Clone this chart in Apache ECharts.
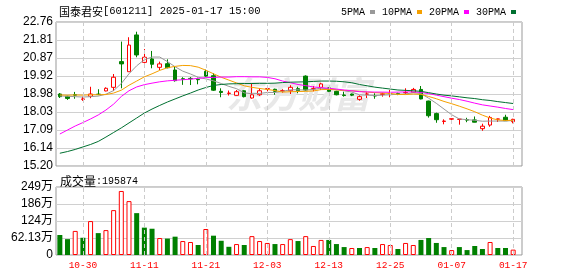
<!DOCTYPE html>
<html><head><meta charset="utf-8">
<script src="https://cdn.jsdelivr.net/npm/echarts@6/dist/echarts.min.js"></script>
<style>html,body{margin:0;padding:0;background:#fff}#c{width:578px;height:276px}</style>
</head><body><div id="c"></div>
<script>
const stockName = '国泰君安';
const stockCode = '601211';
const stamp = '2025-01-17 15:00';
const volumeTitle = '成交量';
const lastVolume = 195874;
const watermark = '东方财富';

const categories = ['10-25','10-28','10-29','10-30','10-31','11-01','11-04','11-05','11-06','11-07','11-08','11-11','11-12','11-13','11-14','11-15','11-18','11-19','11-20','11-21','11-22','11-25','11-26','11-27','11-28','11-29','12-02','12-03','12-04','12-05','12-06','12-09','12-10','12-11','12-12','12-13','12-16','12-17','12-18','12-19','12-20','12-23','12-24','12-25','12-26','12-27','12-30','12-31','01-02','01-03','01-06','01-07','01-08','01-09','01-10','01-13','01-14','01-15','01-16','01-17'];
const labelDates = ['10-30','11-11','11-21','12-03','12-13','12-25','01-07','01-17'];

const opens  = [18.98,18.86,18.94,18.70,18.86,18.97,19.14,19.33,20.68,20.15,22.08,20.64,20.82,20.38,20.57,20.24,19.78,19.80,19.75,20.17,19.94,19.12,19.01,18.91,19.15,18.77,18.94,19.25,19.23,19.14,19.15,19.26,19.92,19.25,19.33,19.30,19.12,18.93,18.98,18.70,18.97,18.89,18.96,19.00,19.00,19.04,19.07,19.22,18.61,17.95,17.54,17.66,17.65,17.63,17.62,17.16,17.35,17.66,17.76,17.53];
const closes = [18.84,18.75,18.92,18.72,18.98,18.96,19.28,19.86,20.56,21.55,21.03,20.91,20.54,20.56,20.36,19.68,19.76,19.78,19.73,19.92,19.18,19.06,19.03,19.10,18.84,18.94,19.15,19.26,19.12,19.15,19.33,19.15,19.19,19.26,19.51,19.12,18.94,18.90,18.92,18.84,18.98,18.88,18.99,19.01,18.98,19.06,19.22,18.72,17.84,17.63,17.56,17.68,17.66,17.61,17.50,17.29,17.75,17.67,17.58,17.65];
const lows   = [18.77,18.67,18.73,18.62,18.76,18.92,19.12,19.14,19.28,20.15,20.91,20.59,20.33,20.24,20.33,19.63,19.46,19.45,19.49,19.88,19.14,18.81,18.90,18.89,18.80,18.74,18.88,19.12,18.94,19.05,18.98,19.02,19.15,19.12,19.19,19.08,18.91,18.84,18.87,18.63,18.77,18.73,18.84,18.81,18.92,18.98,19.04,18.70,17.74,17.47,17.39,17.49,17.37,17.50,17.49,17.05,17.26,17.51,17.57,17.44];
const highs  = [19.03,18.89,19.09,18.84,19.36,19.23,19.33,20.03,21.73,21.96,22.25,21.34,21.24,20.68,20.80,20.41,19.86,19.87,19.84,20.26,20.07,19.28,19.16,19.19,19.18,19.51,19.28,19.40,19.26,19.23,19.44,19.36,19.96,19.40,19.57,19.33,19.15,19.10,19.00,18.91,19.08,19.02,19.05,19.19,19.05,19.28,19.30,19.40,18.63,18.00,17.65,17.69,17.67,17.73,17.80,17.42,17.83,17.68,17.89,17.68];
const prevClose = 18.95;

const volumes = [730000,580000,880000,630000,1240000,800000,910000,1640000,2340000,1970000,1530000,1000000,960000,620000,600000,670000,510000,475000,365000,950000,706000,520000,300000,400000,365000,690000,510000,440000,400000,400000,580000,510000,690000,330000,550000,550000,400000,290000,256000,256000,290000,256000,400000,365000,220000,440000,365000,550000,620000,440000,290000,180000,290000,180000,330000,220000,475000,256000,256000,195874];

const ma5  = [18.88,18.86,18.84,18.82,18.84,18.87,18.97,19.16,19.53,20.04,20.46,20.78,20.92,20.92,20.68,20.41,20.18,20.03,19.86,19.77,19.67,19.53,19.38,19.26,19.04,18.99,19.01,19.06,19.06,19.12,19.20,19.20,19.19,19.22,19.29,19.25,19.20,19.15,19.08,18.94,18.92,18.90,18.92,18.94,18.97,18.98,19.05,19.00,18.76,18.49,18.19,17.89,17.67,17.63,17.60,17.55,17.56,17.56,17.56,17.59];
const ma10 = [18.93,18.92,18.93,18.92,18.94,18.94,18.95,19.03,19.18,19.44,19.66,19.88,20.04,20.22,20.36,20.43,20.48,20.47,20.39,20.23,20.04,19.86,19.71,19.56,19.41,19.33,19.27,19.22,19.16,19.08,19.10,19.11,19.12,19.14,19.21,19.22,19.20,19.17,19.15,19.12,19.08,19.05,19.03,19.01,18.96,18.95,18.98,18.96,18.85,18.73,18.59,18.47,18.34,18.20,18.05,17.87,17.72,17.62,17.59,17.60];
const ma20 = [16.88,17.09,17.30,17.48,17.67,17.88,18.14,18.45,18.85,19.15,19.35,19.47,19.55,19.62,19.67,19.70,19.73,19.76,19.80,19.84,19.85,19.87,19.87,19.89,19.89,19.88,19.88,19.85,19.78,19.66,19.57,19.48,19.42,19.35,19.31,19.28,19.24,19.19,19.15,19.10,19.09,19.08,19.08,19.07,19.08,19.09,19.09,19.06,19.00,18.92,18.84,18.76,18.69,18.60,18.50,18.41,18.35,18.29,18.22,18.16];
const ma30 = [15.87,15.96,16.07,16.20,16.33,16.49,16.72,16.96,17.20,17.46,17.72,17.98,18.19,18.38,18.56,18.72,18.88,19.03,19.19,19.32,19.43,19.48,19.51,19.52,19.53,19.53,19.54,19.54,19.55,19.58,19.60,19.61,19.62,19.64,19.66,19.66,19.65,19.62,19.57,19.48,19.41,19.34,19.29,19.24,19.19,19.17,19.15,19.12,19.05,18.98,18.92,18.88,18.83,18.78,18.74,18.68,18.64,18.58,18.53,18.48];

const maNames = ['5PMA','10PMA','20PMA','30PMA'];
const priceTicks = ['15.20','16.14','17.09','18.03','18.98','19.92','20.87','21.81','22.76'];
const priceMin = 15.20, priceMax = 22.76, priceStep = 0.945;
const volTicks = ['0','62.13万','124万','186万','249万'];
const volMax = 2485200, volStep = 621300;

const RED = '#ff0000', GREEN = '#008000';
const maColors = ['#999999','#f5a000','#ff00ff','#007030'];
const GRID_L = 56;
const isLabel = (idx) => labelDates.indexOf(categories[idx]) >= 0;

const candleData = opens.map((o, i) => [o, closes[i], lows[i], highs[i]]);
const volData = volumes.map((v, i) => {
  const pc = i === 0 ? prevClose : closes[i - 1];
  const up = closes[i] > pc;
  return { value: v, itemStyle: up ? { color: '#fff', borderColor: RED, borderWidth: 1 } : { color: GREEN, borderColor: GREEN, borderWidth: 0 } };
});
const dashedMarks = {
  silent: true, symbol: ['none', 'none'], label: { show: false }, animation: false,
  lineStyle: { color: '#cccccc', type: [4, 3], width: 1 },
  emphasis: { disabled: true },
  data: labelDates.map(d => ({ xAxis: d }))
};

const sans = 'Liberation Sans, Noto Sans CJK SC, sans-serif';
const mono = 'Liberation Mono, Noto Sans CJK SC, monospace';

const chart = echarts.init(document.getElementById('c'), null, { width: 578, height: 276 });
chart.setOption({
  animation: false,
  backgroundColor: '#fff',
  title: [
    { text: '{c|' + stockName + '}{a|[' + stockCode + '] ' + stamp + '}', left: 54, top: 1,
      textStyle: { fontWeight: 'normal', rich: { c: { fontFamily: 'Noto Sans CJK SC', fontSize: 11, fontWeight: 'normal', color: '#000' }, a: { fontFamily: mono, fontSize: 10.5, fontWeight: 'normal', color: '#000' } } } },
    { text: '{c|' + volumeTitle + '}{a|:' + lastVolume + '}', left: 55, top: 170,
      textStyle: { fontWeight: 'normal', rich: { c: { fontFamily: 'Noto Sans CJK SC', fontSize: 12, fontWeight: 'normal', color: '#000' }, a: { fontFamily: mono, fontSize: 10, fontWeight: 'normal', color: '#000' } } } }
  ],
  legend: {
    data: maNames, left: 336, top: 2, align: 'right', icon: 'rect', itemWidth: 5, itemHeight: 4, itemGap: 7,
    textStyle: { fontFamily: mono, fontSize: 10, color: '#000' }, selectedMode: false
  },
  graphic: [{ type: 'text', left: 226, top: 76, z: 1, silent: true,
    style: { text: watermark, font: 'italic bold 36px "Noto Sans CJK SC"', fill: '#e8e8e8' } }],
  grid: [
    { left: GRID_L, top: 22, width: 466, height: 144, show: true, borderColor: '#999', borderWidth: 1, backgroundColor: 'transparent' },
    { left: GRID_L, top: 22, width: 461, height: 144 },
    { left: GRID_L, top: 187, width: 466, height: 68, show: true, borderColor: '#999', borderWidth: 1, backgroundColor: 'transparent' },
    { left: GRID_L, top: 187, width: 461, height: 68 }
  ],
  xAxis: [
    { gridIndex: 0, type: 'value', min: 0, max: 1, show: false },
    { gridIndex: 1, type: 'category', data: categories, boundaryGap: true,
      axisLine: { show: false }, axisTick: { show: false }, axisLabel: { show: false }, splitLine: { show: false } },
    { gridIndex: 2, type: 'value', min: 0, max: 1, show: false },
    { gridIndex: 3, type: 'category', data: categories, boundaryGap: true,
      axisLine: { show: false }, axisTick: { show: false },
      axisLabel: { show: true, interval: isLabel, color: RED, fontFamily: mono, fontSize: 9.5, margin: 6 },
      splitLine: { show: false } }
  ],
  yAxis: [
    { gridIndex: 0, type: 'value', min: priceMin, max: priceMax, interval: priceStep,
      axisLine: { show: false }, axisTick: { show: false },
      axisLabel: { color: '#000', fontFamily: sans, fontSize: 12, margin: 3,
        formatter: v => priceTicks[Math.round((v - priceMin) / priceStep)] || '' },
      splitLine: { show: true, lineStyle: { color: '#d0d0d0', width: 1 } } },
    { gridIndex: 1, type: 'value', min: priceMin, max: priceMax, show: false, splitLine: { show: false } },
    { gridIndex: 2, type: 'value', min: 0, max: volMax, interval: volStep,
      axisLine: { show: false }, axisTick: { show: false },
      axisLabel: { color: '#000', fontFamily: sans, fontSize: 12, margin: 3,
        formatter: v => volTicks[Math.round(v / volStep)] || '' },
      splitLine: { show: true, lineStyle: { color: '#d0d0d0', width: 1 } } },
    { gridIndex: 3, type: 'value', min: 0, max: volMax, show: false, splitLine: { show: false } }
  ],
  series: [
    { type: 'candlestick', name: 'K', xAxisIndex: 1, yAxisIndex: 1, data: candleData, barWidth: 4, z: 3,
      itemStyle: { color: '#fff', color0: GREEN, borderColor: RED, borderColor0: GREEN, borderWidth: 1 },
      markLine: dashedMarks },
    ...[ma5, ma10, ma20, ma30].map((d, k) => ({
      type: 'line', name: maNames[k], xAxisIndex: 1, yAxisIndex: 1, data: d, showSymbol: false, symbol: 'none',
      color: maColors[k], lineStyle: { color: maColors[k], width: 1 }, z: 4
    })),
    { type: 'bar', name: 'VOL', xAxisIndex: 3, yAxisIndex: 3, data: volData, barWidth: 5, markLine: dashedMarks }
  ]
});
</script></body></html>
